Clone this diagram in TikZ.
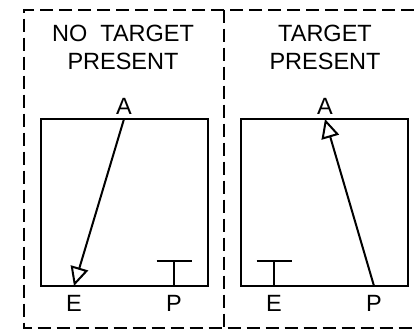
\documentclass[tikz,border=0pt]{standalone}
\usepackage{fontspec}
\setmainfont{Liberation Sans}
\usetikzlibrary{arrows.meta}
\begin{document}
\begin{tikzpicture}[x=1pt,y=-1pt,
  lw/.style={line width=2pt},
  frame/.style={line width=2pt, dash pattern=on 13pt off 6pt},
  panel/.style={lw},
  lbl/.style={font=\fontsize{23.5}{28}\selectfont, inner sep=0pt},
  title/.style={font=\fontsize{23.5}{28}\selectfont, align=center, inner sep=0pt},
  sig/.style={lw, -{Triangle[open, length=19pt, width=18pt, line width=2pt]}, shorten >=0pt}
]
\useasboundingbox (0,0) rectangle (414,330);
% outer dashed frame
\draw[frame] (414,9.5) -- (24,9.5) -- (24,328) -- (414,328);
\draw[frame] (224,9.5) -- (224,328);
% titles
\node[title] (t1) at (123,47) {NO\ \ TARGET\\PRESENT};
\node[title] (t2) at (325,47) {TARGET\\PRESENT};
% panels
\node[panel, draw, minimum width=167pt, minimum height=167pt, inner sep=0pt] (b1) at (124.2,202.5) {};
\node[panel, draw, minimum width=167pt, minimum height=167pt, inner sep=0pt] (b2) at (324.2,202.5) {};
% points left
\coordinate (A1) at (124,119);
\coordinate (E1) at (74,286);
\coordinate (P1) at (174,286);
\coordinate (T1) at (174,261);
\node[lbl, anchor=base] (la1) at (124,114) {A};
\node[lbl, anchor=base] (le1) at (74,311) {E};
\node[lbl, anchor=base] (lp1) at (174,311) {P};
\draw[sig] (A1) -- (E1);
\draw[lw] (P1) -- (T1);
\draw[lw] ([xshift=-17.5pt]T1) -- ([xshift=17.5pt]T1);
% points right
\coordinate (A2) at (325,119);
\coordinate (E2) at (274,286);
\coordinate (P2) at (374,286);
\coordinate (T2) at (274,261);
\node[lbl, anchor=base] (la2) at (325,114) {A};
\node[lbl, anchor=base] (le2) at (274,311) {E};
\node[lbl, anchor=base] (lp2) at (374,311) {P};
\draw[sig] (P2) -- (A2);
\draw[lw] (E2) -- (T2);
\draw[lw] ([xshift=-17.5pt]T2) -- ([xshift=17.5pt]T2);
\end{tikzpicture}
\end{document}
